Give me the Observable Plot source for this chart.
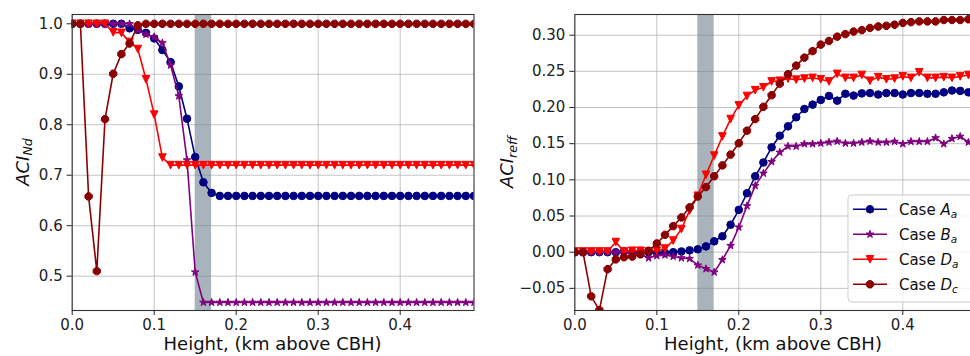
<!DOCTYPE html>
<html><head><meta charset="utf-8">
<script src="https://cdn.jsdelivr.net/npm/d3@7"></script>
<script src="https://cdn.jsdelivr.net/npm/@observablehq/plot@0.6"></script>
<style>
html,body{margin:0;padding:0;background:#fff;overflow:hidden;}
#wrap{position:relative;width:970px;height:356px;overflow:hidden;font-family:"DejaVu Sans";}
#wrap svg{position:absolute;top:0;overflow:visible;}
</style></head><body><div id="wrap"></div>
<script>
// ---- data ----
const heights = [0.00,0.01,0.02,0.03,0.04,0.05,0.06,0.07,0.08,0.09,
  0.10,0.11,0.12,0.13,0.14,0.15,0.16,0.17,0.18,0.19,
  0.20,0.21,0.22,0.23,0.24,0.25,0.26,0.27,0.28,0.29,
  0.30,0.31,0.32,0.33,0.34,0.35,0.36,0.37,0.38,0.39,
  0.40,0.41,0.42,0.43,0.44,0.45,0.46,0.47,0.48,0.49];

const ndA = [1,1,1,1,1,1,1,0.991,0.988,0.982,
  0.971,0.948,0.924,0.876,0.812,0.736,0.686,0.665,0.659,0.659,
  0.659,0.659,0.659,0.659,0.659,0.659,0.659,0.659,0.659,0.659,
  0.659,0.659,0.659,0.659,0.659,0.659,0.659,0.659,0.659,0.659,
  0.659,0.659,0.659,0.659,0.659,0.659,0.659,0.659,0.659,0.659];
const ndB = [1,1,1,1,1,1,1,1,0.988,0.979,
  0.974,0.962,0.918,0.857,0.730,0.508,0.448,0.448,0.448,0.448,
  0.448,0.448,0.448,0.448,0.448,0.448,0.448,0.448,0.448,0.448,
  0.448,0.448,0.448,0.448,0.448,0.448,0.448,0.448,0.448,0.448,
  0.448,0.448,0.448,0.448,0.448,0.448,0.448,0.448,0.448,0.448];
const ndDa = [1,1,1,1,1,0.983,0.982,0.964,0.950,0.890,
  0.820,0.735,0.720,0.720,0.720,0.720,0.720,0.720,0.720,0.720,
  0.720,0.720,0.720,0.720,0.720,0.720,0.720,0.720,0.720,0.720,
  0.720,0.720,0.720,0.720,0.720,0.720,0.720,0.720,0.720,0.720,
  0.720,0.720,0.720,0.720,0.720,0.720,0.720,0.720,0.720,0.720];
const ndDc = [1,1,0.658,0.510,0.811,0.901,0.940,0.961,0.997,1,
  1,1,1,1,1,1,1,1,1,1,
  1,1,1,1,1,1,1,1,1,1,
  1,1,1,1,1,1,1,1,1,1,
  1,1,1,1,1,1,1,1,1,1];

const reffA = [0,0,0,0,0,0,0.001,0,0,0,
  -0.001,-0.001,0,0.001,0.0025,0.004,0.008,0.015,0.022,0.038,
  0.0585,0.0815,0.105,0.124,0.145,0.161,0.174,0.1865,0.198,0.204,
  0.2105,0.216,0.2095,0.219,0.2165,0.2195,0.220,0.218,0.220,0.220,
  0.218,0.220,0.220,0.219,0.219,0.221,0.2235,0.223,0.221,0.221];
const reffB = [0,0,0,0,0,0,-0.001,-0.001,-0.003,-0.008,
  -0.005,-0.004,-0.006,-0.008,-0.009,-0.018,-0.023,-0.0276,-0.0105,0.009,
  0.0345,0.064,0.092,0.109,0.125,0.138,0.1464,0.1464,0.1497,0.1497,
  0.1506,0.152,0.1533,0.1506,0.1506,0.152,0.1533,0.152,0.152,0.153,
  0.1497,0.153,0.153,0.153,0.158,0.1497,0.157,0.160,0.152,0.152];
const reffDa = [0.001,0.001,0.001,0.001,0.001,0.014,0.001,0.002,0.002,0.001,
  0.002,0.005,0.016,0.032,0.0576,0.078,0.107,0.1335,0.160,0.184,
  0.203,0.216,0.224,0.228,0.236,0.237,0.240,0.2385,0.240,0.241,
  0.239,0.236,0.2465,0.241,0.241,0.245,0.237,0.242,0.239,0.240,
  0.243,0.241,0.2486,0.241,0.241,0.242,0.241,0.243,0.245,0.245];
const reffDc = [0,0,-0.061,-0.080,-0.0235,-0.010,-0.007,-0.006,-0.003,0.002,
  0.012,0.024,0.036,0.048,0.062,0.077,0.090,0.105,0.120,0.135,
  0.1506,0.168,0.184,0.201,0.217,0.233,0.246,0.258,0.269,0.278,
  0.287,0.292,0.298,0.3015,0.305,0.307,0.310,0.312,0.313,0.3145,
  0.317,0.318,0.319,0.319,0.319,0.321,0.321,0.321,0.322,0.322];

const caseLetters = ["A","B","D","D"];
const caseSubs = ["a","a","a","c"];
const band = [0.15, 0.17];
const xTicks = [0.0,0.1,0.2,0.3,0.4];
const ndTicks = [0.5,0.6,0.7,0.8,0.9,1.0];
const reffTicks = [-0.05,0.00,0.05,0.10,0.15,0.20,0.25,0.30];
const xLabel = "Height, (km above CBH)";

// ---- styling ----
const colors = ["#000080","#800080","#ff0000","#8b0000"];
const FONT = "DejaVu Sans";
const symCircle = {draw(ctx,size){const r=Math.sqrt(size/Math.PI);ctx.moveTo(r,0);ctx.arc(0,0,r,0,2*Math.PI);}};
const symStar = {draw(ctx,size){const R=Math.sqrt(size/Math.PI),ri=R*0.382;
  for(let i=0;i<10;i++){const a=-Math.PI/2+i*Math.PI/5,rr=i%2?ri:R;const x=rr*Math.cos(a),y=rr*Math.sin(a);i?ctx.lineTo(x,y):ctx.moveTo(x,y);}ctx.closePath();}};
const symTriDown = {draw(ctx,size){const s=Math.sqrt(size/Math.PI);ctx.moveTo(-s,-s);ctx.lineTo(s,-s);ctx.lineTo(0,s);ctx.closePath();}};
const symOct = {draw(ctx,size){const R=Math.sqrt(size/Math.PI)*1.04;
  for(let i=0;i<8;i++){const a=Math.PI/8+i*Math.PI/4;const x=R*Math.cos(a),y=R*Math.sin(a);i?ctx.lineTo(x,y):ctx.moveTo(x,y);}ctx.closePath();}};
const symbols = [symCircle, symStar, symTriDown, symOct];
const radii = [3.8, 4, 3.8, 3.8];

function seriesMarks(values, i) {
  const data = heights.map((h, j) => ({h, v: values[j]}));
  return [
    Plot.line(data, {x: "h", y: "v", stroke: colors[i], strokeWidth: 1.6, clip: true}),
    Plot.dot(data, {x: "h", y: "v", symbol: symbols[i], r: radii[i], fill: colors[i], stroke: colors[i], strokeWidth: 1, clip: true})
  ];
}

function panel({width, marginLeft, marginRight, yDomain, yTicks, yFormat, series}) {
  return Plot.plot({
    width, height: 356,
    marginLeft, marginRight, marginTop: 14, marginBottom: 46,
    style: {fontFamily: FONT, fontSize: "15px", color: "#222", background: "transparent", overflow: "visible"},
    x: {domain: [0, 0.49]},
    y: {domain: yDomain},
    marks: [
      Plot.gridX(xTicks, {stroke: "#b0b0b0", strokeOpacity: 0.75, strokeWidth: 1}),
      Plot.gridY(yTicks, {stroke: "#b0b0b0", strokeOpacity: 0.75, strokeWidth: 1}),
      Plot.rect([band], {x1: d => d[0], x2: d => d[1], fill: "slategray", fillOpacity: 0.6}),
      ...series.flatMap((s, i) => seriesMarks(s, i)),
      Plot.frame({stroke: "#333", strokeWidth: 1.1}),
      Plot.axisX(xTicks, {anchor: "bottom", tickSize: 5, tickPadding: 4, tickFormat: d3.format(".1f"), label: null, fontSize: 15}),
      Plot.axisY(yTicks, {anchor: "left", tickSize: 5, tickPadding: 4.5, tickFormat: d3.format(yFormat), label: null, fontSize: 15})
    ]
  });
}

const wrap = document.getElementById("wrap");

const left = panel({width: 500, marginLeft: 71.7, marginRight: 26.5,
  yDomain: [0.432, 1.0184], yTicks: ndTicks, yFormat: ".1f", series: [ndA, ndB, ndDa, ndDc]});
left.style.left = "0px";
wrap.appendChild(left);

const right = panel({width: 476.1, marginLeft: 74.3, marginRight: 0,
  yDomain: [-0.0806, 0.3286], yTicks: reffTicks, yFormat: ".2f", series: [reffA, reffB, reffDa, reffDc]});
right.style.left = "500px";
wrap.appendChild(right);

function addYLabel(svg, x, y, sub) {
  const t = d3.select(svg).append("text")
    .attr("transform", `translate(${x},${y}) rotate(-90)`)
    .attr("text-anchor", "middle").attr("font-family", FONT).attr("font-size", 18)
    .attr("font-style", "italic").attr("fill", "#111");
  t.append("tspan").text("ACI");
  t.append("tspan").attr("font-size", 12.6).attr("dy", 3.5).text(sub);
}
function addXLabel(svg, x) {
  d3.select(svg).append("text").attr("x", x).attr("y", 350)
    .attr("text-anchor", "middle").attr("font-family", FONT).attr("font-size", 18)
    .attr("fill", "#111").text(xLabel);
}
addYLabel(left, 28.5, 162, "Nd");
addXLabel(left, 272.6);
addYLabel(right, 13, 162, "reff");
addXLabel(right, 273);

// legend (inside right panel, lower right)
const lg = d3.select(right).append("g").attr("text-anchor", "start");
lg.append("rect").attr("x", 348).attr("y", 195).attr("width", 140).attr("height", 107)
  .attr("rx", 4).attr("fill", "#fff").attr("fill-opacity", 0.8).attr("stroke", "#cccccc");
caseLetters.forEach((c, i) => {
  const cy = 209.3 + i * 25;
  lg.append("line").attr("x1", 353).attr("x2", 387).attr("y1", cy).attr("y2", cy)
    .attr("stroke", colors[i]).attr("stroke-width", 1.6);
  lg.append("path").attr("transform", `translate(370,${cy})`)
    .attr("d", d3.symbol().type(symbols[i]).size(Math.PI * radii[i] * radii[i])())
    .attr("fill", colors[i]).attr("stroke", colors[i]).attr("stroke-width", 1);
  const t = lg.append("text").attr("x", 399).attr("y", cy + 5.4).attr("text-anchor", "start")
    .attr("font-family", FONT).attr("font-size", 15).attr("fill", "#111");
  t.append("tspan").text("Case ");
  t.append("tspan").attr("font-style", "italic").text(c);
  t.append("tspan").attr("font-style", "italic").attr("font-size", 10.5).attr("dy", 3).text(caseSubs[i]);
});
</script></body></html>
